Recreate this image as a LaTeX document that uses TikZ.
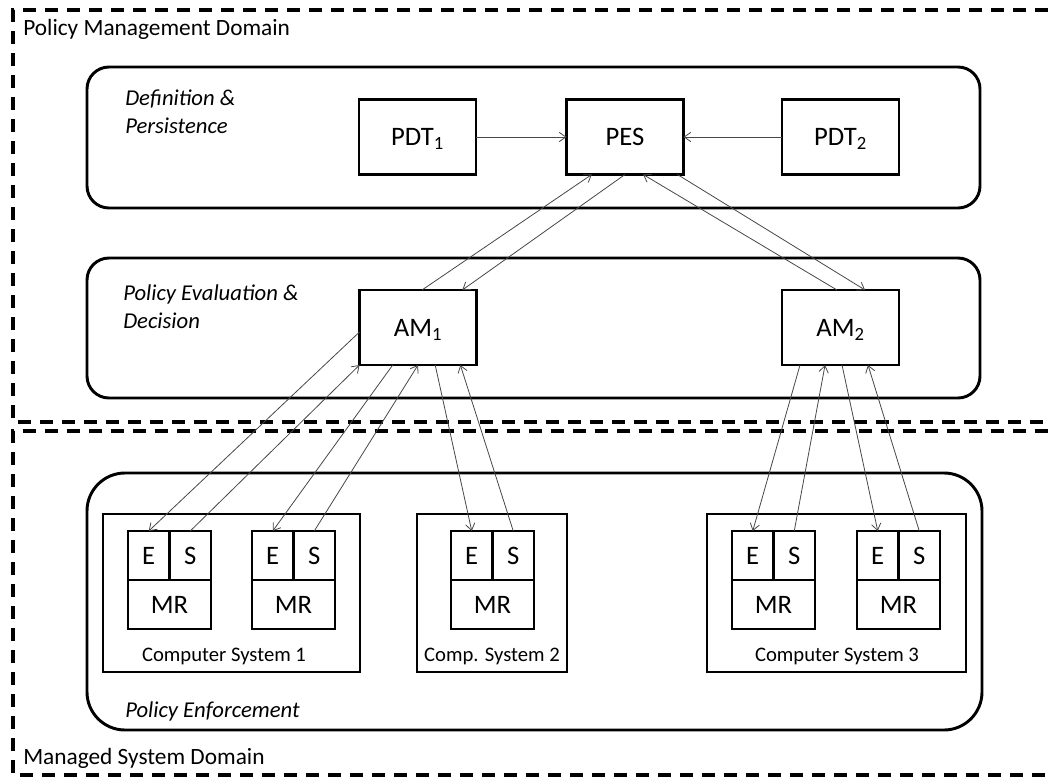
\documentclass[tikz,border=0pt]{standalone}
\usepackage{fontspec}
\setmainfont{Carlito}
\usetikzlibrary{arrows.meta,calc}

% E / S / MR module: #1 name prefix, #2 left x, #3 top y
\newcommand\esmrmodule[3]{%
  \node[cellbox, anchor=north west] (#1e) at (#2,#3) {E};
  \node[cellbox, anchor=north west] (#1s) at (#2+41.5,#3) {S};
  \node[cellbox, minimum width=62.25pt, anchor=north west] (#1m) at (#2,#3+49) {MR};
}

\begin{document}
\begin{tikzpicture}[x=0.75pt,y=-0.75pt,
  domframe/.style={line width=2.6pt, dash pattern=on 10pt off 6.5pt},
  layerbox/.style={draw, line width=2.2pt},
  layerlabel/.style={anchor=west, inner sep=0pt, align=left,
    font=\fontsize{17}{21}\selectfont\itshape},
  domlabel/.style={anchor=west, inner sep=0pt, font=\fontsize{17.5}{21}\selectfont},
  unitbox/.style={draw, line width=2.2pt, outer sep=0pt, inner sep=0pt,
    minimum width=87.75pt, minimum height=56.25pt, fill=white,
    text height=12.9pt, text depth=0pt,
    font=\fontsize{20}{24}\selectfont},
  sysbox/.style={draw, line width=2.2pt, outer sep=0pt, inner sep=0pt,
    minimum height=118.5pt},
  syslabel/.style={inner sep=0pt, font=\fontsize{15.5}{18}\selectfont},
  cellbox/.style={draw, line width=2.2pt, outer sep=0pt, inner sep=0pt,
    minimum width=31.125pt, minimum height=36.75pt,
    text height=12.9pt, text depth=0pt,
    font=\fontsize{20}{24}\selectfont},
  conn/.style={draw=black!72, line width=0.6pt,
    -{Straight Barb[length=5pt,width=7pt]}}
]
\useasboundingbox (0,0) rectangle (1050,778);
\clip (0,0) rectangle (1050,778);

% domains
\draw[domframe] (1070,10) -- (13,10) -- (13,422) -- (1070,422);
\draw[domframe] (1070,431) -- (13,431) -- (13,775) -- (1070,775);
\node[domlabel] (pmd) at (23,29) {Policy Management Domain};
\node[domlabel] (msd) at (23,758) {Managed System Domain};

% layers
\draw[layerbox, rounded corners=16.5pt] (87,67) rectangle (980,208);
\draw[layerbox, rounded corners=16.5pt] (87,258) rectangle (980,398);
\draw[layerbox, rounded corners=28.5pt] (87,473) rectangle (982,730);
\node[layerlabel] (ldp) at (125,112) {Definition \&\\Persistence};
\node[layerlabel] (lpe) at (123,307) {Policy Evaluation \&\\Decision};
\node[layerlabel] (lenf) at (125,711) {Policy Enforcement};

% management components
\node[unitbox] (PDT1) at (417.5,137) {PDT\textsubscript{1}};
\node[unitbox] (PES)  at (625,137)   {PES};
\node[unitbox] (PDT2) at (840.5,137) {PDT\textsubscript{2}};
\node[unitbox] (AM1)  at (418,327.5) {AM\textsubscript{1}};
\node[unitbox] (AM2)  at (840.5,327.5) {AM\textsubscript{2}};

% computer systems
\node[sysbox, minimum width=192.75pt] (cs1) at (231.5,593) {};
\node[sysbox, minimum width=112.5pt]  (cs2) at (492,593) {};
\node[sysbox, minimum width=194.25pt] (cs3) at (836.5,593) {};
\node[syslabel] (cs1l) at (224,656) {Computer System 1};
\node[syslabel] (cs2l) at (492,656) {Comp. System 2};
\node[syslabel] (cs3l) at (837,656) {Computer System 3};

\esmrmodule{m1a}{128}{531}
\esmrmodule{m1b}{252}{531}
\esmrmodule{m2}{451}{531}
\esmrmodule{m3a}{732}{531}
\esmrmodule{m3b}{857}{531}

% definition layer
\draw[conn] (PDT1.east) -- (PES.west);
\draw[conn] (PDT2.west) -- (PES.east);

% evaluation <-> persistence
\draw[conn] ($(AM1.north west)!0.534!(AM1.north east)$) -- ($(PES.south west)!0.216!(PES.south east)$);
\draw[conn] ($(PES.south west)!0.5!(PES.south east)$) -- ($(AM1.north west)!0.879!(AM1.north east)$);
\draw[conn] ($(AM2.north west)!0.47!(AM2.north east)$) -- ($(PES.south west)!0.655!(PES.south east)$);
\draw[conn] ($(PES.south west)!0.948!(PES.south east)$) -- ($(AM2.north west)!0.71!(AM2.north east)$);

% AM1 <-> enforcement
\draw[conn] ($(AM1.north west)!0.56!(AM1.south west)$) -- (m1ae.north);
\draw[conn] (m1as.north) -- (AM1.south west);
\draw[conn] ($(AM1.south west)!0.284!(AM1.south east)$) -- (m1be.north);
\draw[conn] (m1bs.north) -- (AM1.south);
\draw[conn] ($(AM1.south west)!0.647!(AM1.south east)$) -- (m2e.north);
\draw[conn] (m2s.north) -- ($(AM1.south west)!0.862!(AM1.south east)$);

% AM2 <-> enforcement
\draw[conn] ($(AM2.south west)!0.154!(AM2.south east)$) -- (m3ae.north);
\draw[conn] (m3as.north) -- ($(AM2.south west)!0.368!(AM2.south east)$);
\draw[conn] ($(AM2.south west)!0.513!(AM2.south east)$) -- (m3be.north);
\draw[conn] (m3bs.north) -- ($(AM2.south west)!0.735!(AM2.south east)$);
\end{tikzpicture}
\end{document}
